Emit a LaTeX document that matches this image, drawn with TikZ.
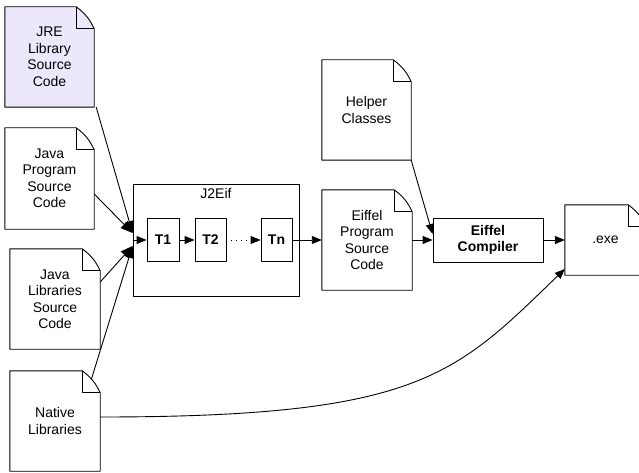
\documentclass[tikz,border=0pt]{standalone}
\usepackage{fontspec}
\setmainfont{Liberation Sans}
\usetikzlibrary{arrows.meta,backgrounds}

\definecolor{jrefill}{RGB}{237,231,252}

\newcommand\foldw{18pt}
\newcommand\foldh{22pt}

% dog-eared document outline around a named node
\newcommand\docoutline[2][white]{%
  \filldraw[boxline, fill=#1] (#2.north west) -- ([xshift=-\foldw]#2.north east)
    to[bend left=14] ([yshift=-\foldh]#2.north east) -- (#2.south east)
    -- (#2.south west) -- cycle;
  \draw[boxline] ([xshift=-\foldw]#2.north east)
    -- ([xshift=-\foldw,yshift=-\foldh]#2.north east)
    -- ([yshift=-\foldh]#2.north east);
}

\begin{document}
\begin{tikzpicture}[x=1pt, y=-1pt,
  boxline/.style={line width=0.9pt, line join=round},
  txt/.style={font=\fontsize{14}{16.5}\selectfont, align=center},
  doc/.style={txt, rectangle, inner sep=0pt, minimum width=90pt, minimum height=100pt},
  proc/.style={txt, rectangle, draw, boxline, inner sep=0pt},
  stage/.style={proc, font=\fontsize{14}{16.5}\selectfont\bfseries, minimum width=32pt, minimum height=43pt},
  arr/.style={line width=0.9pt, -{Triangle[length=10pt,width=8pt]}},
  bigarr/.style={line width=0.9pt, -{Triangle[length=12pt,width=10pt]}}
]
\useasboundingbox (0,0) rectangle (639,473);
\clip (0,0) rectangle (639,473);

% source documents
\node[doc, minimum width=89pt] (jre)   at (49.5,57)   {JRE\\Library\\Source\\Code};
\node[doc, minimum width=89pt, minimum height=101pt] (jprog) at (49.5,178.5) {Java\\Program\\Source\\Code};
\node[doc] (jlibs)  at (55,299)   {Java\\Libraries\\Source\\Code};
\node[doc] (native) at (55,421)   {Native\\Libraries};
\node[doc, minimum width=89pt] (helper) at (366.5,110) {Helper\\Classes};
\node[doc] (eprog)  at (367,240)  {Eiffel\\Program\\Source\\Code};
\node[doc, minimum width=81pt, minimum height=70pt] (exe) at (605.5,240) {.exe};

\begin{scope}[on background layer]
  \docoutline[jrefill]{jre}
  \docoutline{jprog}
  \docoutline{jlibs}
  \docoutline{native}
  \docoutline{helper}
  \docoutline{eprog}
  \docoutline{exe}
\end{scope}

% translator with its stages
\node[proc, minimum width=166pt, minimum height=112pt] (j2eif) at (216,240) {};
\node[txt, inner sep=0pt] (j2eiflabel) at (216,193) {J2Eif};
\node[stage] (t1) at (163,240)   {T1};
\node[stage, minimum width=31pt] (t2) at (210.5,240) {T2};
\node[stage, minimum width=31pt] (tn) at (276.5,240) {Tn};

% compiler
\node[proc, font=\fontsize{14}{16.5}\selectfont\bfseries, minimum width=110pt, minimum height=44pt] (comp) at (488,240) {Eiffel\\Compiler};

% inputs into the translator
\coordinate (inA) at ([yshift=7pt]j2eif.west);
\coordinate (inB) at ([yshift=-6pt]j2eif.west);
\draw[bigarr] ([xshift=2pt]jre.south east) -- (inA);
\draw[bigarr] ([yshift=-15.5pt]jprog.east) -- (inA);
\draw[bigarr] ([yshift=17pt]jlibs.east) -- (inB);
\draw[bigarr] ([xshift=-9pt,yshift=-9pt]native.north east) -- (inB);

% pipeline
\draw[arr] (j2eif.west) -- (t1.west);
\draw[arr] (t1) -- (t2);
\draw[arr, dash pattern=on 1pt off 4pt] (t2) -- (tn);
\draw[arr] (tn) -- (eprog);
\draw[arr] (eprog) -- (comp);
\draw[arr] (helper.south east) -- ([yshift=6pt]comp.west);
\draw[arr] (comp) -- (exe);

% native libraries linked into the executable
\draw[arr] ([yshift=4pt]native.east) .. controls (420,417) and (455,375) .. ([yshift=-29pt]exe.west);
\end{tikzpicture}
\end{document}
